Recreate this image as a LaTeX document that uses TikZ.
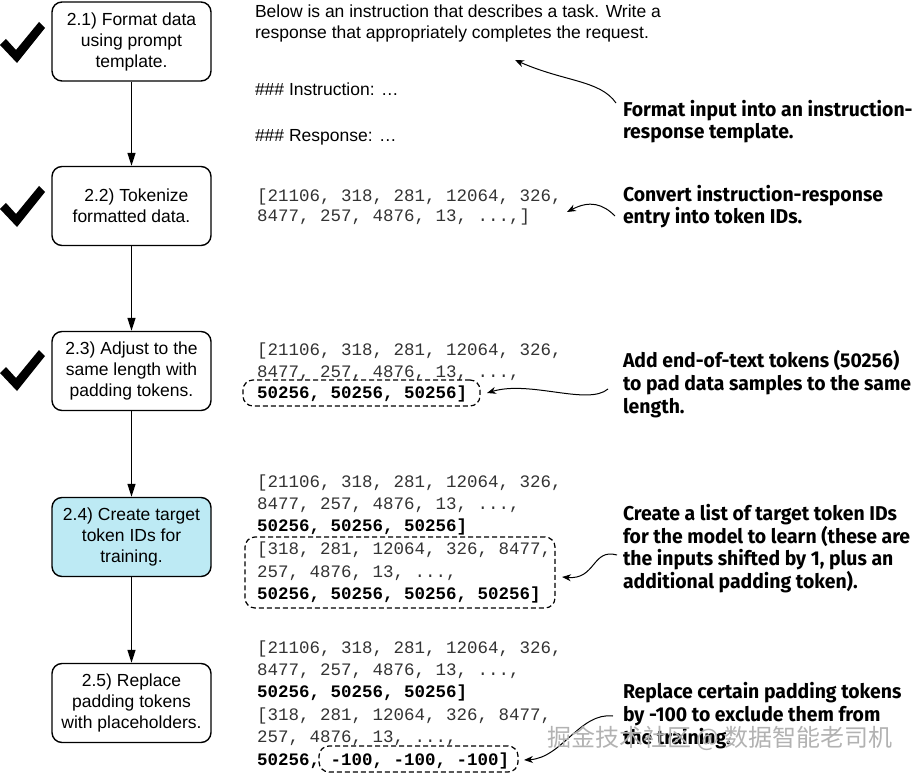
\documentclass[tikz,border=0pt]{standalone}
\usepackage{fontspec}
\setmainfont{Liberation Sans}
\newfontfamily\monofont{Liberation Mono}
\newfontfamily\annfont{Fira Sans}[FakeStretch=0.97]
\newfontfamily\cjkfont{Noto Sans CJK SC}
\usetikzlibrary{arrows.meta}
\definecolor{boxblue}{HTML}{BDEAF4}
\tikzset{
  stepbox/.style={draw, line width=1.4pt, rounded corners=10pt, minimum width=159pt, minimum height=79pt, align=center, inner sep=2pt, font=\fontsize{17.5}{21}\selectfont},
  plain/.style={inner sep=0pt, outer sep=0pt, anchor=base west, font=\fontsize{17.5}{21}\selectfont},
  mono/.style={inner sep=0pt, outer sep=0pt, anchor=base west, text=black!80, font=\monofont\fontsize{17.5}{21}\selectfont},
  monob/.style={mono, text=black, font=\monofont\bfseries\fontsize{17.5}{21}\selectfont},
  ann/.style={inner sep=0pt, outer sep=0pt, anchor=base west, font=\annfont\bfseries\fontsize{20}{22.5}\selectfont},
  dashbox/.style={draw, dashed, dash pattern=on 5pt off 3pt, line width=1.2pt, rounded corners=10pt, inner sep=0pt, outer sep=0pt},
  flow/.style={line width=1.4pt, -{Triangle[length=13pt,width=8pt]}},
  callout/.style={line width=1pt, -{Stealth[length=9pt,width=7pt]}},
  checkmark/.pic={\fill (0,45) -- (6,39) -- (16,50) -- (39,22) -- (45,28) -- (17,63) -- cycle;}
}
\begin{document}
\begin{tikzpicture}[x=1pt,y=-1pt]
\useasboundingbox (0,0) rectangle (919,773);
% step boxes
\node[stepbox] (s1) at (131.5,41.5) {2.1) Format data\\using prompt\\template.};
\node[stepbox] (s2) at (131.5,206) {\ \ 2.2) Tokenize\\formatted data.};
\node[stepbox] (s3) at (131.5,371) {2.3) Adjust to the\\same length with\\padding tokens.};
\node[stepbox, fill=boxblue] (s4) at (131.5,537) {2.4) Create target\\token IDs for\\training.};
\node[stepbox] (s5) at (131.5,703) {2.5) Replace\\padding tokens\\with placeholders.};
\draw[flow] (s1) -- (s2);
\draw[flow] (s2) -- (s3);
\draw[flow] (s3) -- (s4);
\draw[flow] (s4) -- (s5);
% check marks
\pic at (0,0) {checkmark};
\pic at (0,164) {checkmark};
\pic at (0,328) {checkmark};
% template text
\node[plain] (t1) at (255,18) {Below is an instruction that describes a task. Write a};
\node[plain] (t2) at (255,39) {response that appropriately completes the request.};
\node[plain] (t3) at (255,96) {\#\#\# Instruction: …};
\node[plain] (t4) at (255,142) {\#\#\# Response: …};
% block 2
\node[mono] (b2a) at (257,201) {[21106, 318, 281, 12064, 326,};
\node[mono] (b2b) at (257,222) {8477, 257, 4876, 13, ...,]};
% block 3
\node[mono] (b3a) at (257,355) {[21106, 318, 281, 12064, 326,};
\node[mono] (b3b) at (257,377) {8477, 257, 4876, 13, ...,};
\node[monob] (b3c) at (257,398) {50256, 50256, 50256]};
\node[dashbox, minimum width=237pt, minimum height=26pt] (b3box) at (361.5,393) {};
% block 4
\node[mono] (b4a) at (257,487) {[21106, 318, 281, 12064, 326,};
\node[mono] (b4b) at (257,509) {8477, 257, 4876, 13, ...,};
\node[monob] (b4c) at (257,531) {50256, 50256, 50256]};
\node[mono] (b4d) at (257,554) {[318, 281, 12064, 326, 8477,};
\node[mono] (b4e) at (257,577) {257, 4876, 13, ...,};
\node[monob] (b4f) at (257,599) {50256, 50256, 50256, 50256]};
\node[dashbox, minimum width=310pt, minimum height=71pt] (b4box) at (400,572.5) {};
% block 5
\node[mono] (b5a) at (257,653) {[21106, 318, 281, 12064, 326,};
\node[mono] (b5b) at (257,675) {8477, 257, 4876, 13, ...,};
\node[monob] (b5c) at (257,697) {50256, 50256, 50256]};
\node[mono] (b5d) at (257,720) {[318, 281, 12064, 326, 8477,};
\node[mono] (b5e) at (257,742) {257, 4876, 13, ...,};
\node[monob] (b5f) at (257,765) {50256, -100, -100, -100]};
\node[dashbox, minimum width=199pt, minimum height=26pt] (b5box) at (418.5,759) {};
% annotations
\node[ann] (a1a) at (623,117) {Format input into an instruction-};
\node[ann] (a1b) at (623,139) {response template.};
\node[ann] (a2a) at (623,201) {Convert instruction-response};
\node[ann] (a2b) at (623,223) {entry into token IDs.};
\node[ann] (a3a) at (623,367) {Add end-of-text tokens (50256)};
\node[ann] (a3b) at (623,390) {to pad data samples to the same};
\node[ann] (a3c) at (623,413) {length.};
\node[ann] (a4a) at (623,520) {Create a list of target token IDs};
\node[ann] (a4b) at (623,543) {for the model to learn (these are};
\node[ann] (a4c) at (623,565) {the inputs shifted by 1, plus an};
\node[ann] (a4d) at (623,588) {additional padding token).};
\node[ann] (a5a) at (623,698) {Replace certain padding tokens};
\node[ann] (a5b) at (623,721) {by -100 to exclude them from};
\node[ann] (a5c) at (623,744) {the training.};
% callout ends
\coordinate (c1s) at (616,103);
\coordinate (c1e) at (515,60);
\coordinate (c2s) at (615,216);
\coordinate (c2e) at (567,212);
\coordinate (c3s) at (608,389);
\coordinate (c3e) at (487,393);
\coordinate (c4s) at (617,555);
\coordinate (c4e) at (562,577);
\coordinate (c5s) at (613,716);
\coordinate (c5e) at (524,760);
\draw[callout] (c1s) .. controls (600,80) and (565,82) .. (c1e);
\draw[callout] (c2s) .. controls (603,204) and (590,200) .. (c2e);
\draw[callout] (c3s) .. controls (588,406) and (530,380) .. (c3e);
\draw[callout] (c4s) .. controls (592,548) and (596,580) .. (c4e);
\draw[callout] (c5s) .. controls (580,712) and (562,758) .. (c5e);
% watermark
\node[inner sep=0pt, text=gray!60, font=\cjkfont\fontsize{24}{24}\selectfont] (wm) at (720,738) {掘金技术社区 @ 数据智能老司机};
\end{tikzpicture}
\end{document}
